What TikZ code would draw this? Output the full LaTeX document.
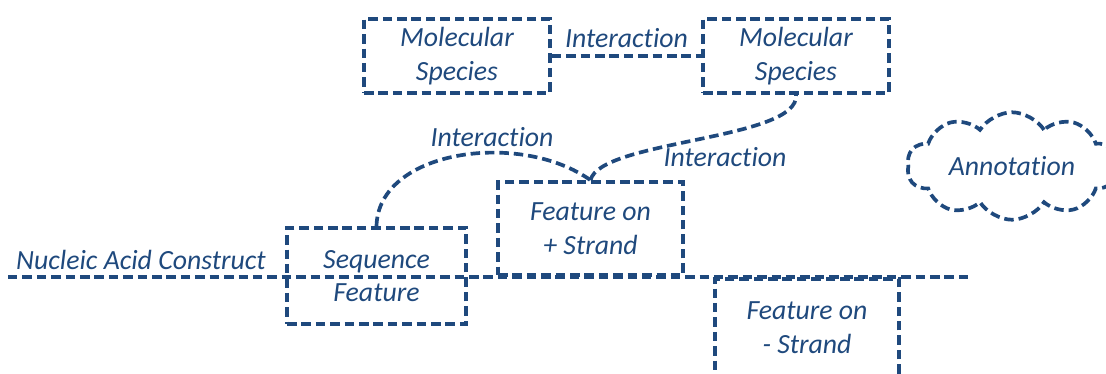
\documentclass[tikz,border=0pt]{standalone}
\usepackage{fontspec}
\setmainfont{Carlito}[Ligatures=NoCommon]
\usetikzlibrary{shapes.symbols}
\definecolor{dblue}{HTML}{1F497D}
\tikzset{
	dsh/.style={draw=dblue, line width=2.1pt, dash pattern=on 5.4pt off 2.8pt},
	box/.style={dsh, align=center, inner sep=0pt},
	txt/.style={text=dblue, inner sep=0pt}
}
\begin{document}
\begin{tikzpicture}[x=0.02cm, y=-0.02cm, font=\fontsize{15.8}{19.2}\selectfont\itshape, text=dblue]
				\useasboundingbox (0,0) rectangle (1106,373);
				\node[box, minimum width=3.72cm, minimum height=1.48cm] (ms1) at (457,56) {Molecular\\Species};
				\node[box, minimum width=3.72cm, minimum height=1.48cm] (ms2) at (796,56) {Molecular\\Species};
				\node[box, minimum width=3.7cm, minimum height=1.86cm] (fplus) at (590.5,228.5) {Feature on\\+ Strand};
				\node[box, minimum width=3.58cm, minimum height=1.92cm] (seqf) at (376.5,276) {Sequence\\Feature};
				\node[box, minimum width=3.68cm, minimum height=1.96cm] (fminus) at (807,328) {Feature on\\- Strand};
				\node[dsh, shape=cloud, cloud puffs=10, cloud puff arc=115, aspect=2.2, minimum width=4.2cm, minimum height=1.85cm, inner sep=0pt] (annot) at (1012,166) {Annotation};
				\path (8,277) coordinate (L) (970,277) coordinate (R);
				\node[txt] (nac) at (141,260) {Nucleic Acid Construct};
				\draw[dsh] (L)--(R);
				% interactions
				\draw[dsh] (ms1.east)--(ms2.west) node[txt, midway, yshift=10.5pt] (i1) {Interaction};
				\draw[dsh] (seqf.north) .. controls (378,150) and (520,130) .. (fplus.north);
				\draw[dsh] (fplus.north) .. controls (600,140) and (800,140) .. (ms2.south);
				\node[txt] (i2) at (492,137) {Interaction};
				\node[txt] (i3) at (725,157) {Interaction};
			\end{tikzpicture}
\end{document}
